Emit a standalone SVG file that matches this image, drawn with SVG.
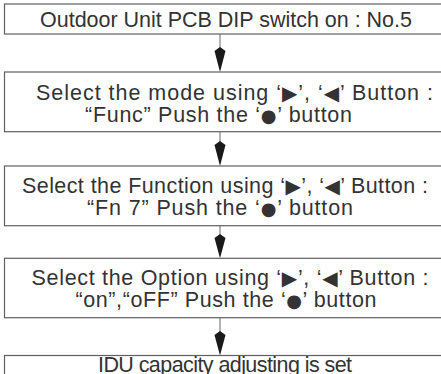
<svg xmlns="http://www.w3.org/2000/svg" width="441" height="374" viewBox="0 0 441 374">
<style>
.box{fill:#fff;stroke:#606060;stroke-width:1.2}
.t{font-family:"Liberation Sans",Arial,sans-serif;font-size:21.5px;fill:#333;text-anchor:middle}
.s{font-family:"DejaVu Sans",sans-serif;font-size:20px}
.c{font-family:"DejaVu Sans",sans-serif;font-size:18px}
.ln{stroke:#808080;stroke-width:1.2}
.hd{fill:#1a1a1a}
</style>
<rect width="441" height="374" fill="#fff"/>
<g id="connectors">
<line class="ln" x1="220" y1="34" x2="220" y2="60"/>
<path class="hd" d="M220,47 L225.5,51 L220,72 L214.5,51 Z"/>
<line class="ln" x1="220" y1="131.7" x2="220" y2="155"/>
<path class="hd" d="M220,141 L225.5,145 L220,166 L214.5,145 Z"/>
<line class="ln" x1="220" y1="225.7" x2="220" y2="248"/>
<path class="hd" d="M220,234 L225.5,238 L220,258.3 L214.5,238 Z"/>
<line class="ln" x1="220" y1="317.7" x2="220" y2="345"/>
<path class="hd" d="M220,331 L225.5,335 L220,355.5 L214.5,335 Z"/>
</g>
<g id="n1">
<rect class="box" x="4.5" y="4" width="450" height="30"/>
<text class="t" x="226" y="27" textLength="372" lengthAdjust="spacing">Outdoor Unit PCB DIP switch on : No.5</text>
</g>
<g id="n2">
<rect class="box" x="4.5" y="72" width="450" height="59.7"/>
<text class="t" x="234.5" y="99.5" textLength="397" lengthAdjust="spacing">Select the mode using ‘<tspan class="s">▶</tspan>’, ‘<tspan class="s">◀</tspan>’ Button :</text>
<text class="t" x="218.5" y="121.5" textLength="267" lengthAdjust="spacing">“Func” Push the ‘<tspan class="c">●</tspan>’ button</text>
</g>
<g id="n3">
<rect class="box" x="4.5" y="166" width="450" height="59.7"/>
<text class="t" x="225" y="193" textLength="406" lengthAdjust="spacing">Select the Function using ‘<tspan class="s">▶</tspan>’, ‘<tspan class="s">◀</tspan>’ Button :</text>
<text class="t" x="220" y="215" textLength="266" lengthAdjust="spacing">“Fn 7” Push the ‘<tspan class="c">●</tspan>’ button</text>
</g>
<g id="n4">
<rect class="box" x="4.5" y="258.3" width="450" height="59.4"/>
<text class="t" x="230" y="285" textLength="397" lengthAdjust="spacing">Select the Option using ‘<tspan class="s">▶</tspan>’, ‘<tspan class="s">◀</tspan>’ Button :</text>
<text class="t" x="226" y="307" textLength="301" lengthAdjust="spacing">“on”,“oFF” Push the ‘<tspan class="c">●</tspan>’ button</text>
</g>
<g id="n5">
<rect class="box" x="4.5" y="355.5" width="450" height="40"/>
<text class="t" x="225" y="372" textLength="254" lengthAdjust="spacing">IDU capacity adjusting is set</text>
</g>
</svg>
